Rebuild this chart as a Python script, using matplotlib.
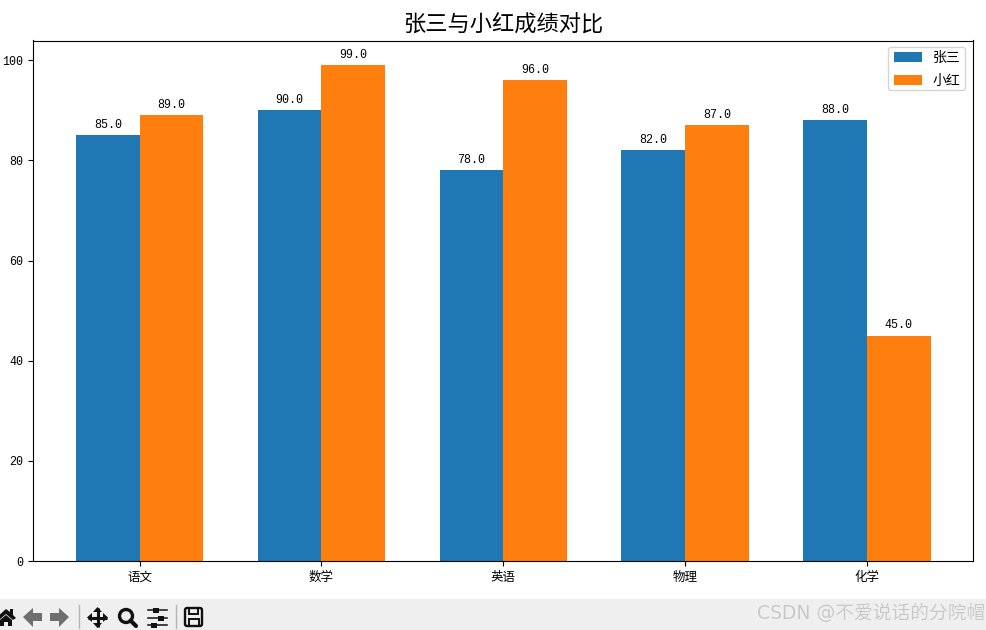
import matplotlib
matplotlib.use('Agg')
import matplotlib.pyplot as plt
import matplotlib.patches as patches
import numpy as np

plt.rcParams['font.family'] = ['Noto Sans CJK SC', 'DejaVu Sans']
plt.rcParams['axes.unicode_minus'] = False

subjects = ['语文', '数学', '英语', '物理', '化学']
zhangsan = [85.0, 90.0, 78.0, 82.0, 88.0]
xiaohong = [89.0, 99.0, 96.0, 87.0, 45.0]
y_ticks = [0, 20, 40, 60, 80, 100]

W, H = 987, 630
MONO = ['Liberation Mono', 'DejaVu Sans Mono']


def draw_toolbar(fig):
    # 窗口底部的工具栏，用像素坐标画
    tb = fig.add_axes([0, 0, 1, 1], zorder=-1)
    tb.set_xlim(0, W)
    tb.set_ylim(H, 0)
    tb.axis('off')
    tb.add_patch(patches.Rectangle((0, 599), W, 31, color='#efefef', lw=0))

    top = fig.add_axes([0, 0, 1, 1], zorder=5)
    top.set_xlim(0, W)
    top.set_ylim(H, 0)
    top.axis('off')
    top.patch.set_alpha(0)

    # 图例边框单独画，字体行高和原图不同
    top.add_patch(patches.FancyBboxPatch((888.5, 47.5), 77, 43, boxstyle='round,pad=0,rounding_size=2.5',
                                         fill=False, ec='#d5d5d5', lw=1))

    k = '#111111'
    # home
    top.add_patch(patches.Polygon([(-4, 618), (6, 609), (10, 612), (10, 609), (13, 609), (13, 615), (16, 618), (13, 620), (6, 614), (-1, 620)], color=k, lw=0))
    top.add_patch(patches.Polygon([(0, 620), (6, 615), (12, 620), (12, 626), (8, 626), (8, 622), (4, 622), (4, 626), (0, 626)], color=k, lw=0))
    # 前进后退
    top.add_patch(patches.Polygon([(23, 617), (33, 608), (33, 613), (42, 613), (42, 621), (33, 621), (33, 627)], color='#6e6e6e', lw=0))
    top.add_patch(patches.Polygon([(69, 617), (59, 608), (59, 613), (50, 613), (50, 621), (59, 621), (59, 627)], color='#6e6e6e', lw=0))
    # 分隔线
    for sx in [78.5, 175.5]:
        top.plot([sx, sx], [605, 628], color='#b5b5b5', lw=1)
    # pan
    top.plot([88, 107], [617.5, 617.5], color=k, lw=2.2, solid_capstyle='butt')
    top.plot([97.5, 97.5], [608, 627], color=k, lw=2.2, solid_capstyle='butt')
    for p in [[(87, 617.5), (92, 613), (92, 622)], [(108, 617.5), (103, 613), (103, 622)],
              [(97.5, 607), (93, 612), (102, 612)], [(97.5, 628), (93, 623), (102, 623)]]:
        top.add_patch(patches.Polygon(p, color=k, lw=0))
    # zoom
    top.add_patch(patches.Circle((126, 616), 6.5, fill=False, ec=k, lw=2.4))
    top.plot([130.5, 136], [620.5, 626], color=k, lw=3, solid_capstyle='round')
    # 设置
    for ly, mx in [(610, 156), (618, 161), (625, 154)]:
        top.plot([148, 167], [ly, ly], color=k, lw=1.1)
        top.add_patch(patches.Rectangle((mx - 3, ly - 2.5), 6, 5, color=k, lw=0))
    # 保存
    top.add_patch(patches.FancyBboxPatch((185, 608), 17, 18, boxstyle='round,pad=0,rounding_size=2', fill=False, ec=k, lw=1.7))
    top.add_patch(patches.Rectangle((188.5, 608), 9, 6, fill=False, ec=k, lw=1.4))
    top.add_patch(patches.Rectangle((188.5, 619), 10, 7, fill=False, ec=k, lw=1.4))

    # 水印
    fam = ['DejaVu Sans', 'Noto Sans CJK SC']
    top.text(985.6, 613.6, 'CSDN @不爱说话的分院帽', ha='right', va='center', fontsize=13.5, color='white', family=fam)
    top.text(985, 613, 'CSDN @不爱说话的分院帽', ha='right', va='center', fontsize=13.5, color='#c8c8c8', family=fam)


def create_chart():
    fig = plt.figure(figsize=(W / 100, H / 100), dpi=100, facecolor='white')
    ax = fig.add_axes([33.3 / W, 1 - 561 / H, 940 / W, 520.5 / H])

    x = np.arange(len(subjects))
    width = 0.35
    bars1 = ax.bar(x - width / 2, zhangsan, width, label='张三')
    bars2 = ax.bar(x + width / 2, xiaohong, width, label='小红')

    for bars in (bars1, bars2):
        for b in bars:
            ax.annotate(f'{b.get_height():.1f}', (b.get_x() + b.get_width() / 2, b.get_height()),
                        xytext=(0, 3.2), textcoords='offset points', ha='center', va='bottom',
                        fontsize=8.4, family=MONO)

    ax.set_title('张三与小红成绩对比', fontsize=16, pad=6.5)
    ax.set_xticks(x)
    ax.set_xticklabels(subjects)
    ax.set_yticks(y_ticks)
    for t in ax.get_yticklabels():
        t.set_family(MONO)
        t.set_fontsize(8.4)
    ax.tick_params(labelsize=9, axis='x')
    ax.legend(loc='upper right', fontsize=10, labelspacing=0.62, borderpad=0.2, borderaxespad=0.5,
              frameon=False, bbox_to_anchor=(1 - 3 / 940, 1 - 1 / 520.5))

    draw_toolbar(fig)
    fig.savefig('out.png', dpi=100)
    plt.close(fig)


if __name__ == '__main__':
    create_chart()
